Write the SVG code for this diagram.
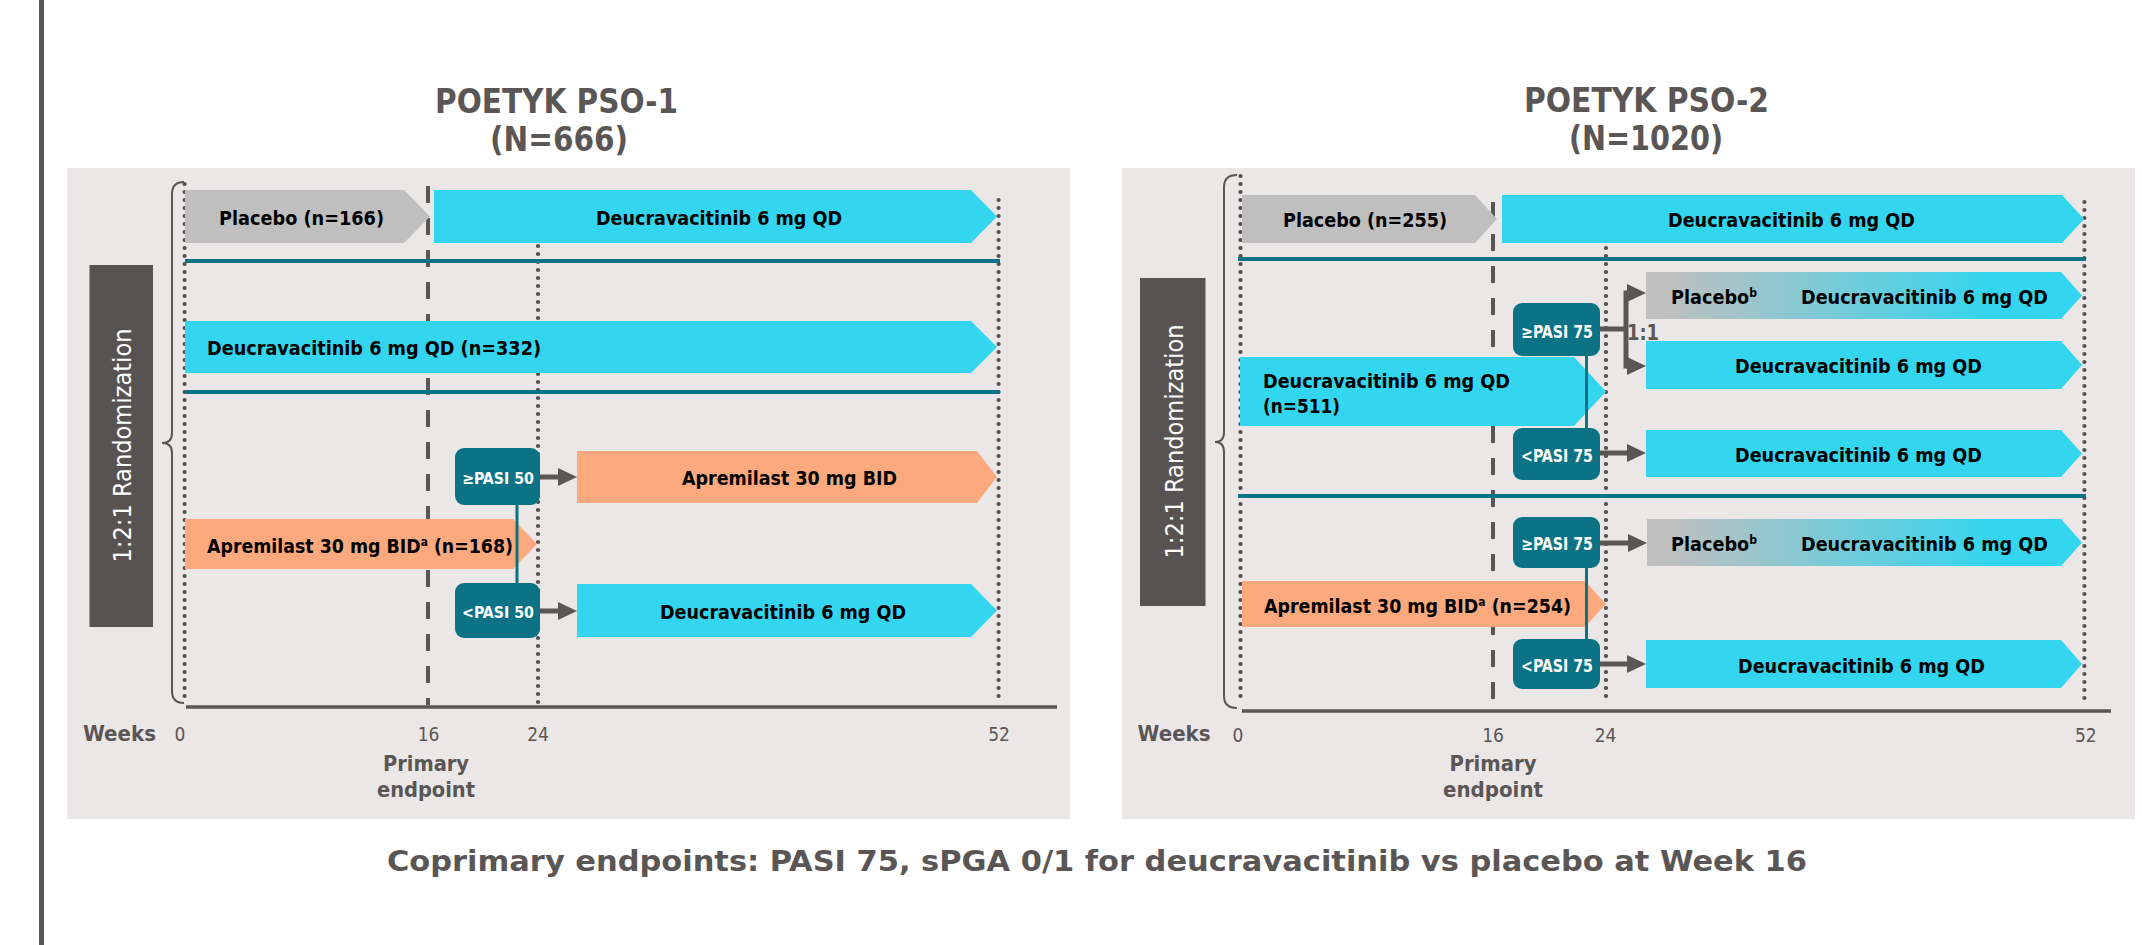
<svg xmlns="http://www.w3.org/2000/svg" width="2142" height="945" viewBox="0 0 2142 945">
<defs>
<style>
.t{font-family:"DejaVu Sans Condensed","DejaVu Sans",sans-serif;font-stretch:condensed}
.lbl{font-weight:bold;font-size:19.5px;fill:#000}
.wl{font-weight:bold;fill:#fff}
.ttl{font-weight:bold;font-size:34px;fill:#5a5655;text-anchor:middle}
.gr{fill:#5a5655}
.bgp{fill:#ece7e7}
.cy{fill:#33d5ef}
.pl{fill:#bfbfbf}
.ap{fill:#fca97d}
.tb{fill:#0b7385}
.rb{fill:#575352}
.dot{stroke:#555050;stroke-width:4.2;stroke-linecap:round;stroke-dasharray:0 8;fill:none}
.dash{stroke:#5a5655;stroke-width:4;stroke-dasharray:17 15;fill:none}
.tl{stroke:#0b7385;stroke-width:4;fill:none}
.tv{stroke:#0b7385;stroke-width:3;fill:none}
.ax{stroke:#5a5655;stroke-width:3.5;fill:none}
.br{stroke:#5a5655;stroke-width:2;fill:none}
.ar{stroke:#5a5655;stroke-width:5;fill:none;marker-end:url(#ah)}
.ar2{stroke:#5a5655;stroke-width:5;fill:none}
</style>
<marker id="ah" markerUnits="userSpaceOnUse" markerWidth="20" markerHeight="18" refX="0" refY="9" orient="auto" overflow="visible">
<path d="M0,0 L19,9 L0,18 Z" fill="#5a5655"/>
</marker>
<linearGradient id="gpb" x1="0" y1="0" x2="1" y2="0">
<stop offset="0" stop-color="#c0c0c0"/>
<stop offset="0.05" stop-color="#bfbfbf"/>
<stop offset="0.8" stop-color="#33d5ef"/>
<stop offset="1" stop-color="#33d5ef"/>
</linearGradient>
</defs>

<rect x="0" y="0" width="2142" height="945" fill="#fff"/>
<rect id="left-bar" x="39" y="0" width="5" height="945" fill="#5b5656"/>

<g id="panel1-bg"><rect class="bgp" x="67" y="168" width="1003" height="651"/></g>
<g id="panel2-bg"><rect class="bgp" x="1122" y="168" width="1013" height="651"/></g>

<g id="titles" class="t">
<text class="ttl" x="556.5" y="113" textLength="243" lengthAdjust="spacingAndGlyphs">POETYK PSO-1</text>
<text class="ttl" x="559" y="151" textLength="138" lengthAdjust="spacingAndGlyphs">(N=666)</text>
<text class="ttl" x="1646.5" y="112" textLength="245" lengthAdjust="spacingAndGlyphs">POETYK PSO-2</text>
<text class="ttl" x="1646" y="150" textLength="154" lengthAdjust="spacingAndGlyphs">(N=1020)</text>
</g>

<!-- guide lines (behind) -->
<g id="guides">
<line class="dot" x1="184.6" y1="184" x2="184.6" y2="703"/>
<line class="dash" x1="428" y1="186" x2="428" y2="705"/>
<line class="dot" x1="538" y1="246" x2="538" y2="703"/>
<line class="dot" x1="998.6" y1="200" x2="998.6" y2="703"/>
<line class="dot" x1="1240.5" y1="176" x2="1240.5" y2="702"/>
<line class="dash" x1="1493" y1="202" x2="1493" y2="705"/>
<line class="dot" x1="1606" y1="248" x2="1606" y2="702"/>
<line class="dot" x1="2084.4" y1="202" x2="2084.4" y2="702"/>
<line class="tl" x1="185" y1="261" x2="1000" y2="261"/>
<line class="tl" x1="185" y1="392" x2="1000" y2="392"/>
<line class="tl" x1="1238" y1="259" x2="2086" y2="259"/>
<line class="tl" x1="1238" y1="496" x2="2086" y2="496"/>
<line class="ax" x1="186" y1="707" x2="1057" y2="707"/>
<line class="ax" x1="1242" y1="711" x2="2111" y2="711"/>
<path class="br" d="M184,182 Q172,182 172,194 L172,433 Q172,443 162,443 Q172,443 172,453 L172,691 Q172,703 184,703"/>
<path class="br" d="M1237,175 Q1224,175 1224,187 L1224,432 Q1224,442 1215,442 Q1224,442 1224,452 L1224,696 Q1224,708 1237,708"/>
</g>

<!-- randomization boxes -->
<g id="p1-rand" class="t">
<rect class="rb" x="89.5" y="265" width="63.5" height="362"/>
<text transform="translate(131,445.5) rotate(-90)" text-anchor="middle" font-size="25" fill="#fff" textLength="234" lengthAdjust="spacingAndGlyphs">1:2:1 Randomization</text>
</g>
<g id="p2-rand" class="t">
<rect class="rb" x="1140" y="278" width="65.5" height="328"/>
<text transform="translate(1182.5,441.5) rotate(-90)" text-anchor="middle" font-size="25" fill="#fff" textLength="234" lengthAdjust="spacingAndGlyphs">1:2:1 Randomization</text>
</g>

<!-- PSO-1 nodes -->
<g id="p1-placebo" class="t">
<path class="pl" d="M185,190 H404 L430,216.5 L404,243 H185 Z"/>
<text class="lbl" x="219" y="225" textLength="165" lengthAdjust="spacingAndGlyphs">Placebo (n=166)</text>
</g>
<g id="p1-deuc-top" class="t">
<path class="cy" d="M434,190 H971 L997,216.5 L971,243 H434 Z"/>
<text class="lbl" x="596" y="225" textLength="246" lengthAdjust="spacingAndGlyphs">Deucravacitinib 6 mg QD</text>
</g>
<g id="p1-deuc-332" class="t">
<path class="cy" d="M185,321 H971 L997,347 L971,373 H185 Z"/>
<text class="lbl" x="207" y="355" textLength="334" lengthAdjust="spacingAndGlyphs">Deucravacitinib 6 mg QD (n=332)</text>
</g>
<g id="p1-apr-168" class="t">
<path class="ap" d="M185,519 H513 L537,544 L513,569 H185 Z"/>
<text class="lbl" x="207" y="552.5" textLength="306" lengthAdjust="spacingAndGlyphs">Apremilast 30 mg BID<tspan font-size="12" dy="-7">a</tspan><tspan dy="7"> (n=168)</tspan></text>
</g>
<g id="p1-pasi50-hi" class="t">
<rect class="tb" x="455" y="448" width="85" height="57" rx="9"/>
<text class="wl" x="462" y="484" font-size="16" textLength="72" lengthAdjust="spacingAndGlyphs">≥PASI 50</text>
</g>
<g id="p1-pasi50-lo" class="t">
<rect class="tb" x="455" y="583" width="85" height="55" rx="9"/>
<text class="wl" x="462" y="618" font-size="16" textLength="72" lengthAdjust="spacingAndGlyphs">&lt;PASI 50</text>
</g>
<g id="p1-apr-bid" class="t">
<path class="ap" d="M577,451 H977 L997,477 L977,503 H577 Z"/>
<text class="lbl" x="682" y="485" textLength="215" lengthAdjust="spacingAndGlyphs">Apremilast 30 mg BID</text>
</g>
<g id="p1-deuc-low" class="t">
<path class="cy" d="M577,584 H971 L997,610.5 L971,637 H577 Z"/>
<text class="lbl" x="660" y="618.5" textLength="246" lengthAdjust="spacingAndGlyphs">Deucravacitinib 6 mg QD</text>
</g>

<!-- PSO-2 nodes -->
<g id="p2-placebo" class="t">
<path class="pl" d="M1242,195 H1475 L1497,219 L1475,243 H1242 Z"/>
<text class="lbl" x="1283" y="227" textLength="164" lengthAdjust="spacingAndGlyphs">Placebo (n=255)</text>
</g>
<g id="p2-deuc-top" class="t">
<path class="cy" d="M1502,195 H2062 L2084,219 L2062,243 H1502 Z"/>
<text class="lbl" x="1668" y="227" textLength="247" lengthAdjust="spacingAndGlyphs">Deucravacitinib 6 mg QD</text>
</g>
<g id="p2-pb-deuc-1" class="t">
<path fill="url(#gpb)" d="M1646,272 H2061 L2082,295.5 L2061,319 H1646 Z"/>
<text class="lbl" x="1671" y="303.5" textLength="86" lengthAdjust="spacingAndGlyphs">Placebo<tspan font-size="12" dy="-7">b</tspan></text>
<text class="lbl" x="1801" y="303.5" textLength="247" lengthAdjust="spacingAndGlyphs">Deucravacitinib 6 mg QD</text>
</g>
<g id="p2-deuc-2" class="t">
<path class="cy" d="M1646,341 H2061 L2082,365 L2061,389 H1646 Z"/>
<text class="lbl" x="1735" y="373" textLength="247" lengthAdjust="spacingAndGlyphs">Deucravacitinib 6 mg QD</text>
</g>
<g id="p2-deuc-511" class="t">
<path class="cy" d="M1240,357 H1574 L1606,391.5 L1574,426 H1240 Z"/>
<text class="lbl" x="1263" y="388" textLength="247" lengthAdjust="spacingAndGlyphs">Deucravacitinib 6 mg QD</text>
<text class="lbl" x="1263" y="413" textLength="77" lengthAdjust="spacingAndGlyphs">(n=511)</text>
</g>
<g id="p2-pasi75-a-hi" class="t">
<rect class="tb" x="1513" y="303" width="87" height="53" rx="9"/>
<text class="wl" x="1521" y="338" font-size="17.5" textLength="72" lengthAdjust="spacingAndGlyphs">≥PASI 75</text>
</g>
<g id="p2-ratio" class="t">
<text x="1627" y="340" font-size="21" font-weight="bold" class="gr" textLength="32" lengthAdjust="spacingAndGlyphs">1:1</text>
</g>
<g id="p2-pasi75-a-lo" class="t">
<rect class="tb" x="1513" y="428" width="87" height="52" rx="9"/>
<text class="wl" x="1521" y="461.5" font-size="17.5" textLength="72" lengthAdjust="spacingAndGlyphs">&lt;PASI 75</text>
</g>
<g id="p2-deuc-3" class="t">
<path class="cy" d="M1646,430 H2061 L2082,453.5 L2061,477 H1646 Z"/>
<text class="lbl" x="1735" y="462" textLength="247" lengthAdjust="spacingAndGlyphs">Deucravacitinib 6 mg QD</text>
</g>
<g id="p2-pasi75-b-hi" class="t">
<rect class="tb" x="1513" y="517" width="87" height="51" rx="9"/>
<text class="wl" x="1521" y="549.5" font-size="17.5" textLength="72" lengthAdjust="spacingAndGlyphs">≥PASI 75</text>
</g>
<g id="p2-pb-deuc-2" class="t">
<path fill="url(#gpb)" d="M1647,519 H2061 L2082,542.5 L2061,566 H1647 Z"/>
<text class="lbl" x="1671" y="551" textLength="86" lengthAdjust="spacingAndGlyphs">Placebo<tspan font-size="12" dy="-7">b</tspan></text>
<text class="lbl" x="1801" y="551" textLength="247" lengthAdjust="spacingAndGlyphs">Deucravacitinib 6 mg QD</text>
</g>
<g id="p2-apr-254" class="t">
<path class="ap" d="M1242,581 H1585 L1606,604 L1585,627 H1242 Z"/>
<text class="lbl" x="1264" y="612.5" textLength="307" lengthAdjust="spacingAndGlyphs">Apremilast 30 mg BID<tspan font-size="12" dy="-7">a</tspan><tspan dy="7"> (n=254)</tspan></text>
</g>
<g id="p2-pasi75-b-lo" class="t">
<rect class="tb" x="1513" y="639" width="87" height="50" rx="9"/>
<text class="wl" x="1521" y="672" font-size="17.5" textLength="72" lengthAdjust="spacingAndGlyphs">&lt;PASI 75</text>
</g>
<g id="p2-deuc-4" class="t">
<path class="cy" d="M1646,640 H2061 L2082,664 L2061,688 H1646 Z"/>
<text class="lbl" x="1738" y="673" textLength="247" lengthAdjust="spacingAndGlyphs">Deucravacitinib 6 mg QD</text>
</g>

<!-- connectors (drawn over the arms) -->
<g id="connectors">
<line class="tv" x1="517" y1="505" x2="517" y2="583"/>
<line class="ar" x1="540" y1="477" x2="558" y2="477"/>
<line class="ar" x1="540" y1="611" x2="558" y2="611"/>
<line class="tv" x1="1586.5" y1="356" x2="1586.5" y2="428"/>
<line class="tv" x1="1586.5" y1="568" x2="1586.5" y2="639"/>
<path class="ar2" d="M1600,329 H1626"/>
<path class="ar2" d="M1628,293 H1626 V366 H1628"/>
<line class="ar" x1="1626" y1="293" x2="1627" y2="293"/>
<line class="ar" x1="1626" y1="366" x2="1627" y2="366"/>
<line class="ar" x1="1600" y1="453" x2="1627" y2="453"/>
<line class="ar" x1="1600" y1="543" x2="1628" y2="543"/>
<line class="ar" x1="1600" y1="664" x2="1627" y2="664"/>
</g>

<!-- axis labels -->
<g id="p1-axis-labels" class="t gr">
<text x="83" y="741" font-size="21.5" font-weight="bold" textLength="73" lengthAdjust="spacingAndGlyphs">Weeks</text>
<text x="180" y="741" font-size="19" text-anchor="middle">0</text>
<text x="428.5" y="741" font-size="19" text-anchor="middle">16</text>
<text x="538" y="741" font-size="19" text-anchor="middle">24</text>
<text x="999" y="741" font-size="19" text-anchor="middle">52</text>
<text x="426" y="771" font-size="21.5" font-weight="bold" text-anchor="middle" textLength="86" lengthAdjust="spacingAndGlyphs">Primary</text>
<text x="426" y="797" font-size="21.5" font-weight="bold" text-anchor="middle" textLength="98" lengthAdjust="spacingAndGlyphs">endpoint</text>
</g>
<g id="p2-axis-labels" class="t gr">
<text x="1137.6" y="741" font-size="21.5" font-weight="bold" textLength="73" lengthAdjust="spacingAndGlyphs">Weeks</text>
<text x="1238" y="742" font-size="19" text-anchor="middle">0</text>
<text x="1493" y="742" font-size="19" text-anchor="middle">16</text>
<text x="1605.6" y="742" font-size="19" text-anchor="middle">24</text>
<text x="2085.8" y="742" font-size="19" text-anchor="middle">52</text>
<text x="1493" y="771" font-size="21.5" font-weight="bold" text-anchor="middle" textLength="87" lengthAdjust="spacingAndGlyphs">Primary</text>
<text x="1493" y="797" font-size="21.5" font-weight="bold" text-anchor="middle" textLength="100" lengthAdjust="spacingAndGlyphs">endpoint</text>
</g>

<g id="caption" class="t gr">
<text x="387" y="871" font-size="29" font-weight="bold" textLength="1420" lengthAdjust="spacingAndGlyphs">Coprimary endpoints: PASI 75, sPGA 0/1 for deucravacitinib vs placebo at Week 16</text>
</g>
</svg>
